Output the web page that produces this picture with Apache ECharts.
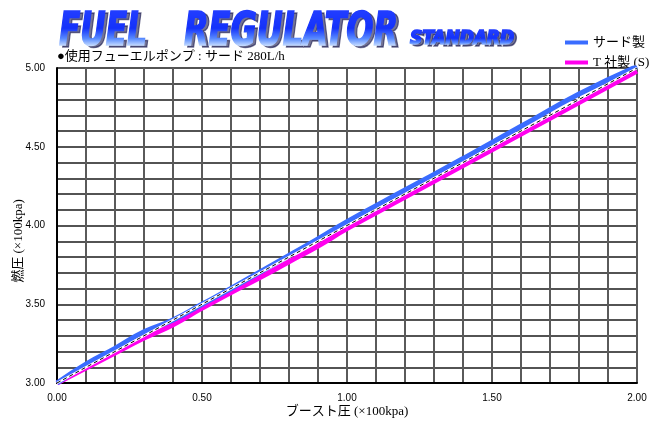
<!DOCTYPE html>
<html>
<head>
<meta charset="utf-8">
<script src="https://cdn.jsdelivr.net/npm/echarts@6/dist/echarts.min.js"></script>
<style>
html,body{margin:0;padding:0;background:#fff;}
#chart{width:660px;height:430px;}
</style>
</head>
<body>
<div id="chart"></div>
<script>
// ---- data ----
const boost = [0, 0.1, 0.2, 0.3, 0.4, 0.5, 0.6, 0.7, 0.8, 0.9, 1.0, 1.2, 1.4, 1.6, 1.8, 2.0];
const sardPressure = [3.00, 3.12, 3.22, 3.325, 3.40, 3.50, 3.60, 3.705, 3.81, 3.915, 4.025, 4.225, 4.425, 4.63, 4.835, 5.01];
const tPressure = [3.00, 3.095, 3.19, 3.285, 3.37, 3.475, 3.575, 3.67, 3.77, 3.87, 3.98, 4.18, 4.38, 4.58, 4.78, 4.98];
const refBoost = [0, 2.0];
const refPressure = [3.00, 5.00];
const seriesNames = ['サード製', 'T 社製 (S)'];
const xTickLabels = ['0.00', '0.50', '1.00', '1.50', '2.00'];
const yTickLabels = ['3.00', '3.50', '4.00', '4.50', '5.00'];
const titleMain = ['FUEL', 'REGULATOR'];
const titleSub = 'STANDARD';
const subtitle = '●使用フューエルポンプ : サード 280L/h';
const xName = 'ブースト圧 (×100kpa)';
const yName = '燃圧 (×100kpa)';

const zip = (xs, ys) => xs.map((x, i) => [x, ys[i]]);

const chart = echarts.init(document.getElementById('chart'), null, {renderer: 'canvas'});

const serifFont = '"Liberation Serif","Noto Sans CJK JP",serif';
const titleFamily = '"DejaVu Sans Condensed","DejaVu Sans",sans-serif';

function fitScale(text, font, target) {
  const c = document.createElement('canvas').getContext('2d');
  c.font = font;
  return target / c.measureText(text).width;
}

const fmt = (labels) => (v) => {
  const s = (Math.round(v * 100) / 100).toFixed(2);
  return labels.indexOf(s) >= 0 ? s : '';
};

chart.setOption({
  backgroundColor: '#ffffff',
  animation: false,
  grid: {left: 57, right: 23, top: 68, bottom: 47, containLabel: false},
  legend: {
    orient: 'vertical', left: 560, top: 31, itemGap: 7,
    itemWidth: 23, itemHeight: 4, icon: 'rect',
    textStyle: {fontFamily: serifFont, fontSize: 13, color: '#000'},
    data: seriesNames
  },
  xAxis: {
    type: 'value', min: 0, max: 2, interval: 0.1,
    axisLine: {show: true, lineStyle: {color: '#000', width: 2}},
    axisTick: {show: false},
    axisLabel: {formatter: fmt(xTickLabels), margin: 10, fontFamily: '"Liberation Sans",sans-serif', fontSize: 10, color: '#000'},
    splitLine: {show: true, lineStyle: {color: '#5a5a5a', width: 2}}
  },
  yAxis: {
    type: 'value', min: 3, max: 5, interval: 0.1,
    axisLine: {show: true, lineStyle: {color: '#000', width: 2}},
    axisTick: {show: false},
    axisLabel: {formatter: fmt(yTickLabels), margin: 12, fontFamily: '"Liberation Sans",sans-serif', fontSize: 10, color: '#000'},
    splitLine: {show: true, lineStyle: {color: '#1a1a1a', width: 1.5}}
  },
  series: [
    {
      name: seriesNames[1], type: 'line', data: zip(boost, tPressure),
      smooth: true, showSymbol: false, z: 3,
      itemStyle: {color: '#ff00ee'},
      lineStyle: {color: '#ff00ee', width: 5}
    },
    {
      name: seriesNames[0], type: 'line', data: zip(boost, sardPressure),
      smooth: true, showSymbol: false, z: 4,
      itemStyle: {color: '#3a6cff'},
      lineStyle: {color: '#3a6cff', width: 5}
    },
    {
      name: 'ref-white', type: 'line', data: zip(refBoost, refPressure),
      showSymbol: false, z: 5, silent: true,
      lineStyle: {color: '#ffffff', width: 2.5}
    },
    {
      name: 'ref', type: 'line', data: zip(refBoost, refPressure),
      showSymbol: false, z: 6, silent: true,
      lineStyle: {color: '#000000', width: 1, type: [4, 3]}
    }
  ],
  graphic: [
    {type: 'text', x: 57, y: 57, z: 10,
     style: {text: subtitle, font: '13px ' + serifFont, fill: '#000', verticalAlign: 'middle'}},
    {type: 'text', x: 347, y: 412, z: 10,
     style: {text: xName, font: '13px ' + serifFont, fill: '#000', align: 'center', verticalAlign: 'middle'}},
    {type: 'text', x: 19, y: 241, rotation: Math.PI / 2, z: 10,
     style: {text: yName, font: '13px ' + serifFont, fill: '#000', align: 'center', verticalAlign: 'middle'}}
  ]
});

// ---- gradient title: real text, drawn in clipped horizontal bands ----
const zr = chart.getZr();
const G = echarts.graphic;
const stops = [[0, [32, 60, 255]], [0.45, [20, 50, 250]], [0.75, [90, 140, 255]], [1, [225, 240, 255]]];
function colorAt(t) {
  for (let i = 1; i < stops.length; i++) {
    if (t <= stops[i][0]) {
      const a = stops[i - 1], b = stops[i];
      const f = (t - a[0]) / (b[0] - a[0]);
      const c = a[1].map((v, k) => Math.round(v + (b[1][k] - v) * f));
      return 'rgb(' + c.join(',') + ')';
    }
  }
  return 'rgb(' + stops[stops.length - 1][1].join(',') + ')';
}
function addTitle(text, size, x, yMid, width, capTop, capBottom) {
  const font = 'italic bold ' + size + 'px ' + titleFamily;
  const sx = fitScale(text, font, width);
  const base = {text: text, font: font, align: 'left', verticalAlign: 'middle'};
  const shadow = new G.Text({
    x: x + 3, y: yMid + 2, scaleX: sx, z: 20,
    style: Object.assign({}, base, {fill: 'rgba(0,0,60,0.55)', stroke: 'rgba(0,0,60,0.55)', lineWidth: 1.5,
      shadowColor: 'rgba(0,0,60,0.6)', shadowBlur: 3})
  });
  zr.add(shadow);
  const top = capTop - 3, bottom = capBottom + 3;
  for (let yb = top; yb < bottom; yb++) {
    const t = Math.min(1, Math.max(0, (yb - capTop) / (capBottom - capTop)));
    const col = colorAt(t);
    const grp = new G.Group({z: 21});
    grp.setClipPath(new G.Rect({shape: {x: 0, y: yb, width: 660, height: 1.05}}));
    grp.add(new G.Text({
      x: x, y: yMid, scaleX: sx, z: 21,
      style: Object.assign({}, base, {fill: col, stroke: col, lineWidth: 1.5})
    }));
    zr.add(grp);
  }
}
addTitle(titleMain[0], 46, 59, 33, 88, 12, 47);
addTitle(titleMain[1], 46, 184, 33, 214, 12, 47);
addTitle(titleSub, 19, 410, 39, 104, 31, 46);
</script>
</body>
</html>
